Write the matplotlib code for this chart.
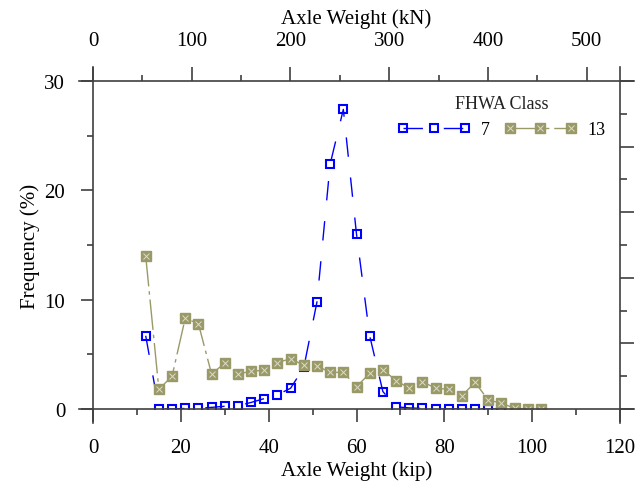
import numpy as np
import matplotlib
matplotlib.use("Agg")
import matplotlib.pyplot as plt
from matplotlib.lines import Line2D
from matplotlib.legend_handler import HandlerTuple
from matplotlib.ticker import MultipleLocator, FixedLocator

plt.rcParams['font.family'] = ['Liberation Serif', 'DejaVu Serif']

# Axle weight bins (kip) and frequency (%) per FHWA class
kip_7 = [12, 15, 18, 21, 24, 27, 30, 33, 36, 39, 42, 45, 48, 51, 54, 57, 60,
         63, 66, 69, 72, 75, 78, 81, 84, 87, 90, 93]
freq_7 = [6.7, 0.0, 0.0, 0.05, 0.05, 0.15, 0.25, 0.3, 0.6, 0.95, 1.3, 1.9, 3.8,
          9.8, 22.4, 27.4, 16.0, 6.7, 1.6, 0.2, 0.1, 0.05, 0.0, 0.0, 0.0, 0.0,
          0.0, 0.0]

kip_13 = [12, 15, 18, 21, 24, 27, 30, 33, 36, 39, 42, 45, 48, 51, 54, 57, 60,
          63, 66, 69, 72, 75, 78, 81, 84, 87, 90, 93, 96, 99, 102]
freq_13 = [14.0, 1.8, 3.0, 8.3, 7.8, 3.2, 4.2, 3.2, 3.45, 3.55, 4.25, 4.6, 4.0,
           3.95, 3.35, 3.35, 2.05, 3.25, 3.6, 2.6, 1.9, 2.5, 1.9, 1.8, 1.2, 2.45,
           0.8, 0.55, 0.05, 0.0, 0.0]

kn_ticks = [0, 100, 200, 300, 400, 500]

KIP_TO_KN = 4.448
BLUE = '#0000ff'
OLIVE = '#9a9a68'
AXC = '#404040'

fig = plt.figure(figsize=(6.43, 4.89), dpi=100)
ax = fig.add_axes([93 / 643, 1 - 410 / 489, 527 / 643, 328 / 489])

# class 7: open blue squares, long dashes
l7, = ax.plot(kip_7, freq_7, color=BLUE, lw=1.0, dashes=(14, 15),
              marker='s', ms=6, mfc='none', mec=BLUE, mew=1.5)
# class 13: olive squares with a cross
l13, = ax.plot(kip_13, freq_13, color=OLIVE, lw=1.0, dashes=(22, 3.5, 2.5, 3.5),
               marker='s', ms=6.5, mfc=OLIVE, mec=OLIVE, mew=1.0)
x13, = ax.plot(kip_13, freq_13, ls='none', marker='x', ms=4, mec='#dcdcc8',
               mew=0.7)

ax.set_xlim(0, 120)
ax.set_ylim(0, 30)
for s in ax.spines.values():
    s.set_visible(False)

ax.xaxis.set_major_locator(MultipleLocator(20))
ax.xaxis.set_minor_locator(MultipleLocator(10))
ax.yaxis.set_major_locator(MultipleLocator(10))
ax.yaxis.set_minor_locator(MultipleLocator(5))
ax.tick_params(which='both', direction='out', color=AXC, width=1.2, labelsize=15)
ax.tick_params(axis='x', which='major', length=9, pad=12)
ax.tick_params(axis='y', which='major', length=9, pad=11)
ax.tick_params(which='minor', length=4)

ax.set_xlabel('Axle Weight (kip)', fontsize=15, labelpad=2)
ax.set_ylabel('Frequency (%)', fontsize=15, labelpad=3)

# frame lines that run past the corners
ex, ey = 14 / 527, 14 / 328
for xs, ys in [((0, 0), (-ey, 1 + ey)), ((1, 1), (-ey, 1 + ey)),
               ((-ex, 1 + ex), (0, 0)), ((-ex, 1 + ex), (1, 1))]:
    ax.add_line(Line2D(xs, ys, transform=ax.transAxes, color=AXC, lw=1.2,
                       clip_on=False))

# top axis in kN
top = ax.secondary_xaxis('top', functions=(lambda k: k * KIP_TO_KN,
                                           lambda n: n / KIP_TO_KN))
top.spines['top'].set_visible(False)
top.xaxis.set_major_locator(FixedLocator(kn_ticks))
top.xaxis.set_minor_locator(FixedLocator([t + 50 for t in kn_ticks]))
top.tick_params(which='both', direction='out', color=AXC, width=1.2, labelsize=15)
top.tick_params(which='major', length=10, pad=12)
top.tick_params(which='minor', length=4)
top.set_xlabel('Axle Weight (kN)', fontsize=15, labelpad=6)

# right axis with ticks only
ax2 = ax.twinx()
ax2.set_ylim(0, 5)
for s in ax2.spines.values():
    s.set_visible(False)
ax2.yaxis.set_major_locator(MultipleLocator(1))
ax2.yaxis.set_minor_locator(MultipleLocator(0.5))
ax2.tick_params(which='both', direction='out', color=AXC, width=1.2,
                labelright=False)
ax2.tick_params(which='major', length=10)
ax2.tick_params(which='minor', length=5)

leg = ax.legend([l7, (l13, x13)], ['7', '13'], title='FHWA Class', ncol=2,
                numpoints=3, handlelength=4.0, handletextpad=0.6,
                columnspacing=0.8, frameon=False, fontsize=13,
                title_fontsize=13, loc='upper right',
                bbox_to_anchor=(1.0, 1.0), borderaxespad=0.4,
                handler_map={tuple: HandlerTuple(ndivide=1)})
leg.get_title().set_color('#222222')

fig.savefig('out.png', dpi=100)
